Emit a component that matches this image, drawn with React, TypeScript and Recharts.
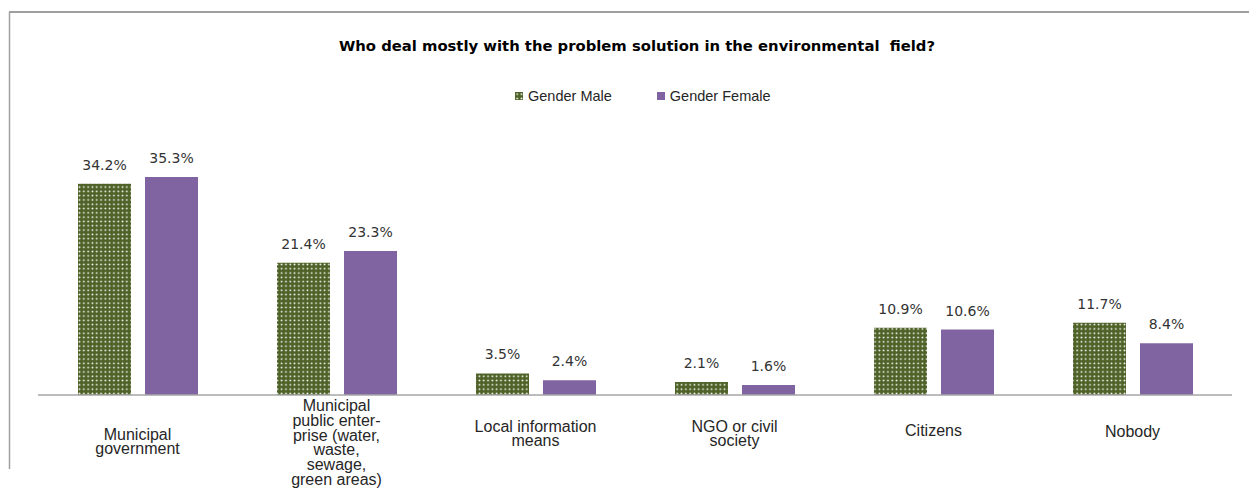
import { BarChart, Bar, XAxis, YAxis, LabelList } from 'recharts';

const categories = [
    ['Municipal', 'government'],
    ['Municipal', 'public enter-', 'prise (water,', 'waste,', 'sewage,', 'green areas)'],
    ['Local information', 'means'],
    ['NGO or civil', 'society'],
    ['Citizens'],
    ['Nobody'],
];
const maleValues = [34.2, 21.4, 3.5, 2.1, 10.9, 11.7];
const femaleValues = [35.3, 23.3, 2.4, 1.6, 10.6, 8.4];
const seriesNames = ['Gender Male', 'Gender Female'];

// vertical centre of each tick label block, below the axis line
const tickCentre = [47, 48, 39, 39, 36, 37];

const data = categories.map((lines, i) => ({
    name: lines.join(' '),
    lines,
    male: maleValues[i],
    female: femaleValues[i],
}));

const GREEN = '#4F6228';
const PURPLE = '#8064A2';
const LABEL_FONT = '"DejaVu Sans", Verdana, sans-serif';
const AXIS_FONT = '"Liberation Sans", Arial, sans-serif';

function CategoryTick(props: any) {
    const { x, y, payload } = props;
    const idx = payload.index;
    const lines: string[] = data[idx]?.lines ?? [payload.value];
    const lh = 14.8;
    const startY = y + (tickCentre[idx] ?? 40) - 3 - ((lines.length - 1) * lh) / 2;
    return (
        <text x={x} y={startY} textAnchor="middle" fontFamily={AXIS_FONT} fontSize={16} fill="#262626">
            {lines.map((l, i) => (
                <tspan key={i} x={x} y={startY + i * lh}>{l}</tspan>
            ))}
        </text>
    );
}

function LegendBox() {
    return (
        <div style={{ position: 'absolute', top: 88, left: 515, display: 'flex', gap: 45, fontFamily: AXIS_FONT, fontSize: 14.5, color: '#262626' }}>
            <span style={{ display: 'flex', alignItems: 'center', gap: 5 }}>
                <svg width={8} height={8}><rect width={8} height={8} fill="url(#dots)" /></svg>
                {seriesNames[0]}
            </span>
            <span style={{ display: 'flex', alignItems: 'center', gap: 5 }}>
                <svg width={8} height={8}><rect width={8} height={8} fill={PURPLE} /></svg>
                {seriesNames[1]}
            </span>
        </div>
    );
}

const pct = (v: any) => `${Number(v).toFixed(1)}%`;
const labelStyle = { fontFamily: LABEL_FONT, fontSize: 14, fill: '#333333' };

export default function App() {
    return (
        <div style={{ position: 'absolute', left: 0, top: 0, width: 1249, height: 489, background: '#fff' }}>
            <svg width={1249} height={489} style={{ position: 'absolute', left: 0, top: 0 }}>
                <defs>
                    <pattern id="dots" width="4.3" height="4.3" patternUnits="userSpaceOnUse">
                        <rect width="4.3" height="4.3" fill={GREEN} />
                        <circle cx="2.15" cy="2.15" r="0.9" fill="#ffffff" />
                    </pattern>
                </defs>
                <line x1={9} y1={12} x2={1249} y2={12} stroke="#A0A0A0" strokeWidth={2} />
                <line x1={9.5} y1={12} x2={9.5} y2={469} stroke="#A0A0A0" strokeWidth={1.5} />
                <text x={637} y={51} textAnchor="middle" fontFamily={LABEL_FONT} fontWeight="bold" fontSize={14.8} fill="#000" style={{ whiteSpace: 'pre' }}>
                    {'Who deal mostly with the problem solution in the environmental\u00a0 field?'}
                </text>
            </svg>
            <LegendBox />
            <div style={{ position: 'absolute', left: 0, top: 0 }}>
                <BarChart
                    width={1249}
                    height={489}
                    data={data}
                    margin={{ top: 148, right: 17, left: 38, bottom: 0 }}
                    barSize={53}
                    barGap={14}
                >
                    <XAxis
                        dataKey="name"
                        height={94}
                        tickLine={false}
                        axisLine={{ stroke: '#A6A6A6', strokeWidth: 1.5 }}
                        tick={<CategoryTick />}
                        interval={0}
                    />
                    <YAxis hide domain={[0, 40]} />
                    <Bar dataKey="male" name={seriesNames[0]} fill="url(#dots)" isAnimationActive={false}>
                        <LabelList dataKey="male" position="top" offset={14} formatter={pct} style={labelStyle} />
                    </Bar>
                    <Bar dataKey="female" name={seriesNames[1]} fill={PURPLE} isAnimationActive={false}>
                        <LabelList dataKey="female" position="top" offset={14} formatter={pct} style={labelStyle} />
                    </Bar>
                </BarChart>
            </div>
        </div>
    );
}
